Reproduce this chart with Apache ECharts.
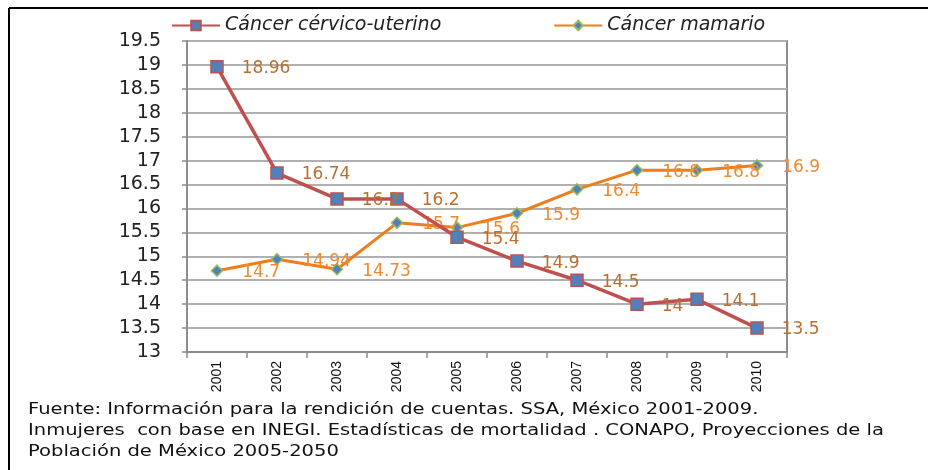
<!DOCTYPE html>
<html>
<head>
<meta charset="utf-8">
<script src="https://cdn.jsdelivr.net/npm/echarts@6/dist/echarts.min.js"></script>
<style>html,body{margin:0;padding:0;background:#fff}#c{width:928px;height:470px}</style>
</head>
<body>
<div id="c"></div>
<script>
const years = ['2001','2002','2003','2004','2005','2006','2007','2008','2009','2010'];
const cervicoName = 'Cáncer cérvico-uterino';
const mamarioName = 'Cáncer mamario';
const cervico = [18.96, 16.74, 16.2, 16.2, 15.4, 14.9, 14.5, 14, 14.1, 13.5];
const mamario = [14.7, 14.94, 14.73, 15.7, 15.6, 15.9, 16.4, 16.8, 16.8, 16.9];
const footer = [
  'Fuente: Información para la rendición de cuentas. SSA, México 2001-2009.',
  'Inmujeres  con base en INEGI. Estadísticas de mortalidad . CONAPO, Proyecciones de la',
  'Población de México 2005-2050'
];

const chart = echarts.init(document.getElementById('c'));
const footFont = '16px "DejaVu Sans"';
const footScale = 1.22;
chart.setOption({
  animation: false,
  backgroundColor: '#fff',
  legend: {
    top: 11, left: 166,
    itemWidth: 48, itemHeight: 12, itemGap: 112,
    textStyle: {fontFamily: 'DejaVu Sans', fontStyle: 'italic', fontSize: 19, color: '#222'},
    data: [cervicoName, mamarioName]
  },
  grid: {left: 187, right: 141, top: 41, bottom: 118, show: true, borderColor: '#8c8c8c', borderWidth: 2, containLabel: false},
  xAxis: {
    type: 'category', data: years, boundaryGap: true,
    axisLine: {lineStyle: {color: '#8c8c8c', width: 2}},
    axisTick: {show: true, length: 6, lineStyle: {color: '#8c8c8c', width: 1.5}},
    axisLabel: {rotate: 90, margin: 9, fontFamily: 'Liberation Sans', fontSize: 14, color: '#111'}
  },
  yAxis: {
    type: 'value', min: 13, max: 19.5, interval: 0.5,
    axisLine: {show: true, lineStyle: {color: '#8c8c8c', width: 2}},
    axisTick: {show: true, length: 5, lineStyle: {color: '#8c8c8c', width: 1.5}},
    axisLabel: {margin: 26, fontFamily: 'DejaVu Sans', fontSize: 19, color: '#222'},
    splitLine: {lineStyle: {color: '#b0b0b0', width: 2}}
  },
  series: [
    {
      name: cervicoName, type: 'line', data: cervico,
      symbol: 'rect', symbolSize: 12,
      lineStyle: {color: '#c0504d', width: 3.5},
      itemStyle: {color: '#4f81bd', borderColor: '#c0504d', borderWidth: 1.5},
      label: {show: true, position: 'right', distance: 18, offset: [0, 2], fontFamily: 'DejaVu Sans', fontSize: 17, color: '#b8702f'},
      z: 3
    },
    {
      name: mamarioName, type: 'line', data: mamario,
      symbol: 'diamond', symbolSize: 11,
      lineStyle: {color: '#ef7d1c', width: 3},
      itemStyle: {color: '#4f81bd', borderColor: '#9bbb59', borderWidth: 1.5},
      label: {show: true, position: 'right', distance: 19, offset: [0, 2], fontFamily: 'DejaVu Sans', fontSize: 17, color: '#ef8a2e'},
      z: 2
    }
  ],
  graphic: [
    {type: 'line', shape: {x1: 9, y1: 8, x2: 928, y2: 8}, style: {stroke: '#000', lineWidth: 2}},
    {type: 'line', shape: {x1: 9, y1: 8, x2: 9, y2: 470}, style: {stroke: '#000', lineWidth: 2}},
    {type: 'text', x: 28, y: 402, scaleX: footScale, style: {text: footer[0], font: footFont, fill: '#111', textVerticalAlign: 'top'}},
    {type: 'text', x: 28, y: 423, scaleX: footScale, style: {text: footer[1], font: footFont, fill: '#111', textVerticalAlign: 'top'}},
    {type: 'text', x: 28, y: 444, scaleX: footScale, style: {text: footer[2], font: footFont, fill: '#111', textVerticalAlign: 'top'}}
  ]
});
</script>
</body>
</html>
